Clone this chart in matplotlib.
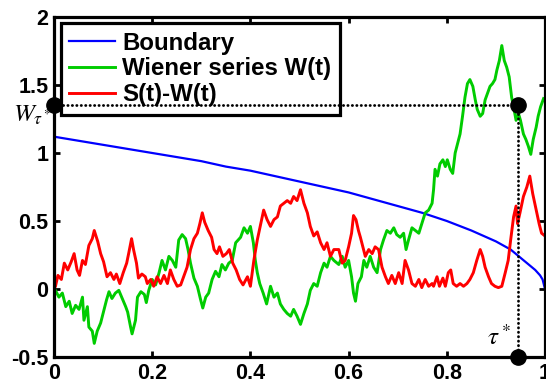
import numpy as np
import matplotlib
matplotlib.use('Agg')
import matplotlib.pyplot as plt

plt.rcParams['font.family'] = ['Liberation Sans', 'DejaVu Sans']
plt.rcParams['mathtext.fontset'] = 'stix'

# stopping boundary
t_bound = [0.0, 0.05, 0.1, 0.15, 0.2, 0.25, 0.3, 0.35, 0.4, 0.45, 0.5, 0.55, 0.6,
           0.65, 0.7, 0.75, 0.8, 0.85, 0.9, 0.93, 0.95, 0.97, 0.98, 0.99, 0.995, 1.0]
y_bound = [1.12, 1.09, 1.06, 1.03, 1.00, 0.97, 0.94, 0.90, 0.87, 0.83, 0.79, 0.75, 0.71,
           0.66, 0.61, 0.56, 0.50, 0.43, 0.35, 0.29, 0.23, 0.17, 0.14, 0.10, 0.07, 0.0]

# Wiener path W(t)
t_w = [0.0, .003, .010, .017, .024, .031, .037, .044, .051, .058, .061, .068, .071, .078,
       .082, .088, .095, .100, .107, .112, .118, .125, .132, .139, .146, .150, .156, .159,
       .166, .170, .177, .184, .188, .193, .200, .207, .214, .220, .227, .234, .241, .248,
       .254, .261, .268, .273, .278, .285, .292, .298, .303, .309, .315, .322, .329, .336,
       .342, .349, .356, .363, .370, .380, .387, .394, .400, .406, .410, .414, .419, .426,
       .433, .441, .448, .455, .461, .468, .475, .482, .488, .495, .502, .509, .516, .522,
       .529, .536, .543, .550, .556, .563, .570, .580, .587, .593, .600, .606, .610, .614,
       .619, .626, .631, .637, .644, .651, .658, .665, .671, .678, .685, .692, .698, .705,
       .712, .717, .722, .729, .736, .743, .749, .756, .763, .770, .773, .776, .781, .786,
       .792, .797, .801, .807, .812, .817, .822, .827, .832, .837, .842, .847, .853, .858,
       .862, .868, .873, .878, .883, .888, .893, .898, .902, .907, .912, .917, .922, .927,
       .932, .937, .941, .946, .950, .956, .961, .966, .971, .976, .982, .986, .991, .997]
w = [0.0, -0.01, -0.06, -0.03, -0.13, -0.09, -0.18, -0.12, -0.15, -0.06, -0.23, -0.13, -0.28, -0.31,
     -0.40, -0.31, -0.25, -0.18, -0.08, -0.02, -0.07, -0.03, -0.01, -0.07, -0.13, -0.17, -0.28, -0.33,
     -0.23, -0.06, -0.02, -0.04, -0.10, -0.01, 0.07, 0.03, 0.12, 0.21, 0.14, 0.24, 0.21, 0.16,
     0.36, 0.40, 0.37, 0.29, 0.19, 0.08, 0.02, -0.07, -0.14, -0.06, -0.03, 0.07, 0.13, 0.09,
     0.18, 0.14, 0.19, 0.21, 0.34, 0.38, 0.45, 0.41, 0.46, 0.34, 0.21, 0.12, 0.04, -0.03,
     -0.11, 0.02, -0.06, -0.03, -0.11, -0.15, -0.18, -0.20, -0.15, -0.20, -0.26, -0.18, -0.11, -0.01,
     0.04, 0.02, 0.12, 0.19, 0.16, 0.24, 0.21, 0.18, 0.24, 0.16, 0.21, 0.09, -0.03, -0.09,
     0.04, 0.09, 0.21, 0.16, 0.24, 0.16, 0.12, 0.29, 0.36, 0.43, 0.41, 0.45, 0.40, 0.38,
     0.41, 0.29, 0.36, 0.45, 0.43, 0.41, 0.48, 0.56, 0.58, 0.63, 0.73, 0.88, 0.83, 0.92,
     0.95, 0.90, 0.95, 0.88, 0.85, 1.00, 1.07, 1.14, 1.27, 1.41, 1.51, 1.54, 1.49, 1.39,
     1.32, 1.27, 1.29, 1.39, 1.44, 1.49, 1.51, 1.54, 1.61, 1.68, 1.79, 1.68, 1.63, 1.56,
     1.41, 1.32, 1.24, 1.29, 1.24, 1.14, 1.10, 1.05, 0.99, 1.10, 1.19, 1.27, 1.34, 1.40]

# S(t) - W(t)
t_s = [0.0, .003, .008, .015, .021, .028, .035, .041, .047, .052, .058, .064, .071, .078,
       .082, .089, .095, .101, .108, .115, .122, .127, .134, .141, .148, .152, .158, .162,
       .168, .172, .179, .186, .190, .197, .203, .210, .217, .224, .231, .237, .244, .251,
       .258, .264, .271, .278, .285, .292, .297, .302, .307, .314, .321, .326, .332, .337,
       .344, .351, .357, .364, .371, .378, .385, .394, .400, .407, .414, .421, .427, .434,
       .441, .448, .455, .461, .468, .475, .482, .488, .495, .502, .509, .516, .522, .529,
       .536, .543, .550, .556, .563, .570, .580, .587, .593, .600, .606, .610, .615, .620,
       .624, .629, .634, .641, .648, .654, .661, .668, .675, .681, .688, .695, .702, .709,
       .715, .722, .729, .736, .743, .749, .756, .763, .770, .773, .780, .785, .792, .797,
       .803, .808, .813, .820, .827, .834, .841, .847, .854, .861, .868, .873, .878, .885,
       .891, .898, .905, .912, .919, .925, .930, .936, .941, .944, .949, .956, .963, .969,
       .975, .982, .988, .993, 1.0]
s_minus_w = [0.0, 0.02, 0.10, 0.07, 0.19, 0.14, 0.20, 0.26, 0.14, 0.10, 0.21, 0.18, 0.32, 0.37,
             0.43, 0.35, 0.26, 0.20, 0.09, 0.12, 0.07, 0.11, 0.04, 0.12, 0.19, 0.26, 0.37, 0.29,
             0.19, 0.08, 0.11, 0.09, 0.04, 0.07, 0.02, 0.09, 0.04, 0.10, 0.04, 0.14, 0.07, 0.02,
             0.03, 0.09, 0.16, 0.29, 0.37, 0.41, 0.48, 0.56, 0.49, 0.43, 0.38, 0.29, 0.26, 0.31,
             0.24, 0.26, 0.29, 0.19, 0.14, 0.07, 0.03, 0.09, 0.02, 0.21, 0.36, 0.48, 0.58, 0.51,
             0.46, 0.51, 0.53, 0.61, 0.63, 0.65, 0.63, 0.68, 0.65, 0.73, 0.63, 0.56, 0.46, 0.39,
             0.42, 0.34, 0.29, 0.34, 0.24, 0.29, 0.29, 0.19, 0.21, 0.31, 0.41, 0.54, 0.51, 0.43,
             0.38, 0.31, 0.24, 0.29, 0.26, 0.31, 0.29, 0.16, 0.09, 0.04, 0.10, 0.04, 0.12, 0.04,
             0.21, 0.14, 0.04, 0.02, 0.07, 0.01, 0.07, 0.02, 0.04, 0.02, 0.09, 0.02, 0.08, 0.02,
             0.12, 0.14, 0.04, 0.02, 0.04, 0.02, 0.04, 0.07, 0.12, 0.21, 0.29, 0.24, 0.16, 0.09,
             0.04, 0.02, 0.01, 0.02, 0.12, 0.21, 0.36, 0.53, 0.61, 0.48, 0.56, 0.68, 0.75, 0.83,
             0.70, 0.58, 0.48, 0.41, 0.39]

# stopping time and stopped value
tau_star = 0.944
w_tau = 1.35

xticks = [0, 0.2, 0.4, 0.6, 0.8, 1]
xtick_labels = ['0', '0.2', '0.4', '0.6', '0.8', '1']
yticks = [-0.5, 0, 0.5, 1, 1.5, 2]
ytick_labels = ['-0.5', '0', '0.5', '1', '1.5', '2']

fig = plt.figure(figsize=(5.46, 3.89), dpi=100)
ax = fig.add_axes([0.0989, 0.0823, 0.8993, 0.874])

ax.plot(t_bound, y_bound, color=(0, 0, 1), lw=1.6, label='Boundary')
ax.plot(t_w, w, color=(0, 0.8, 0), lw=2.1, label='Wiener series W(t)')
ax.plot(t_s, s_minus_w, color=(1, 0, 0), lw=2.1, label='S(t)-W(t)')

# dotted guides to the stopping point
dots = (0, (0.1, 1.5))
ax.plot([0, tau_star], [w_tau, w_tau], color='k', lw=2, ls=dots,
        dash_capstyle='round', zorder=6)
ax.plot([tau_star, tau_star], [w_tau, -0.5], color='k', lw=2, ls=dots,
        dash_capstyle='round', zorder=6)
ax.plot([0, tau_star, tau_star], [w_tau, w_tau, -0.5], 'o', color='k', ms=11,
        clip_on=False, zorder=7)

ax.text(-0.084, 1.228, r'$W_{\tau^*}$', fontsize=18, ha='left', va='baseline',
        clip_on=False)
ax.text(0.882, -0.41, r'$\tau^*$', fontsize=18, ha='left', va='baseline')

ax.set_xlim(0, 1)
ax.set_ylim(-0.5, 2)
ax.set_xticks(xticks)
ax.set_xticklabels(xtick_labels)
ax.set_yticks(yticks)
ax.set_yticklabels(ytick_labels)
ax.tick_params(direction='in', length=4, width=2, top=True, right=True,
               labelsize=15.5, pad=4)
for lab in ax.get_xticklabels() + ax.get_yticklabels():
    lab.set_fontweight('bold')
for sp in ax.spines.values():
    sp.set_linewidth(2.3)

leg = ax.legend(loc='upper left', bbox_to_anchor=(0.014, 0.982), borderaxespad=0,
                prop={'weight': 'bold', 'size': 17.3}, fancybox=False, framealpha=1,
                edgecolor='k', handlelength=1.9, handletextpad=0.3, borderpad=0.35,
                labelspacing=0.12)
leg.get_frame().set_linewidth(2.3)

fig.savefig('out.png', dpi=100)
